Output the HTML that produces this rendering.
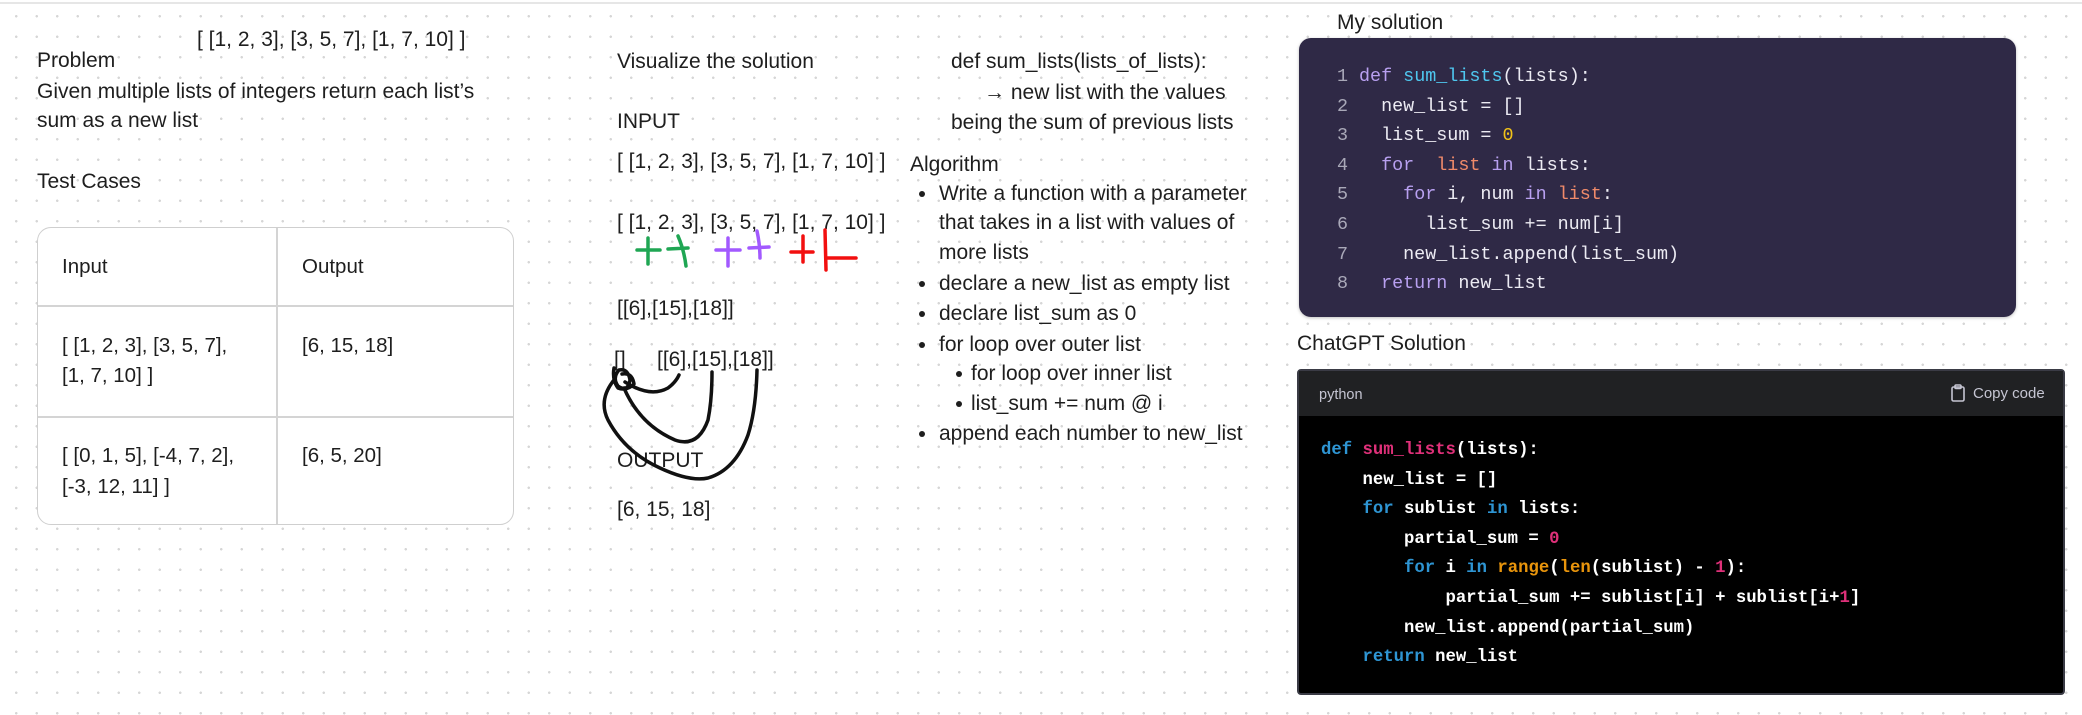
<!DOCTYPE html>
<html><head><meta charset="utf-8"><style>
html,body{margin:0;padding:0}
body{width:2082px;height:715px;position:relative;overflow:hidden;background:#fff;
background-image:radial-gradient(circle,#d6d6d6 1.1px,transparent 1.4px);background-size:20.5px 20.5px;background-position:6px 6px;
font-family:"Liberation Sans",sans-serif;color:#1e1e1e;font-size:21px}
.t{position:absolute;line-height:24px;white-space:nowrap}
.topline{position:absolute;left:0;top:2px;width:2082px;height:2px;background:#e6e6e6}
.table{position:absolute;left:37px;top:227px;width:477px;height:298px;border:1.5px solid #cfcfcf;border-radius:14px;background:#fff;box-sizing:border-box;font-size:20.5px}
.vl{position:absolute;left:238px;top:0;bottom:0;width:1.5px;background:#d4d4d4}
.hl{position:absolute;left:0;right:0;height:1.5px;background:#d4d4d4}
.dot{position:absolute;width:6px;height:6px;border-radius:50%;background:#1e1e1e}
.mine{position:absolute;left:1299px;top:38px;width:717px;height:279px;background:#2f2946;border-radius:12px;box-shadow:0 1px 3px rgba(0,0,0,.25)}
.code{position:absolute;font-family:"Liberation Mono",monospace;white-space:pre;line-height:29.6px}
.mine .code{font-size:18.4px;color:#ecebf3;left:60px;top:24px}
.mine .ln{color:#a9a8b8;text-align:right;width:16px;left:33px}
.kw{color:#b8a0f0}.fn{color:#4fc7ef}.num{color:#f2c318}.or{color:#f08a6a}
.gpt{position:absolute;left:1297px;top:369px;width:768px;height:326px;background:#000;border:2px solid #3a3b45;box-sizing:border-box;border-radius:4px}
.gh{position:absolute;left:0;top:0;right:0;height:45px;background:#202123}
.gpt .code{font-size:17.3px;font-weight:bold;color:#fff;left:22px;top:65px;line-height:29.6px}
.b{color:#2e95d3}.r{color:#df3079}.o{color:#e9950c}
</style></head><body>
<div class="topline"></div>

<div class="t" style="left:197px;top:28px">[ [1, 2, 3], [3, 5, 7], [1, 7, 10] ]</div>
<div class="t" style="left:37px;top:49px">Problem</div>
<div class="t" style="left:37px;top:80px">Given multiple lists of integers return each list’s</div>
<div class="t" style="left:37px;top:109px">sum as a new list</div>
<div class="t" style="left:37px;top:170px">Test Cases</div>

<div class="table">
  <div class="vl"></div>
  <div class="hl" style="top:77px"></div>
  <div class="hl" style="top:188px"></div>
  <div class="t" style="left:24px;top:27px">Input</div>
  <div class="t" style="left:264px;top:27px">Output</div>
  <div class="t" style="left:24px;top:106px">[ [1, 2, 3], [3, 5, 7],</div>
  <div class="t" style="left:24px;top:136px">[1, 7, 10] ]</div>
  <div class="t" style="left:264px;top:106px">[6, 15, 18]</div>
  <div class="t" style="left:24px;top:216px">[ [0, 1, 5], [-4, 7, 2],</div>
  <div class="t" style="left:24px;top:247px">[-3, 12, 11] ]</div>
  <div class="t" style="left:264px;top:216px">[6, 5, 20]</div>
</div>

<div class="t" style="left:617px;top:50px">Visualize the solution</div>
<div class="t" style="left:617px;top:110px">INPUT</div>
<div class="t" style="left:617px;top:150px">[ [1, 2, 3], [3, 5, 7], [1, 7, 10] ]</div>
<div class="t" style="left:617px;top:211px">[ [1, 2, 3], [3, 5, 7], [1, 7, 10] ]</div>
<div class="t" style="left:617px;top:297px">[[6],[15],[18]]</div>
<div class="t" style="left:614px;top:348px">[]</div>
<div class="t" style="left:657px;top:348px">[[6],[15],[18]]</div>
<div class="t" style="left:617px;top:449px">OUTPUT</div>
<div class="t" style="left:617px;top:498px">[6, 15, 18]</div>

<svg style="position:absolute;left:0;top:0" width="2082" height="715" fill="none" stroke-linecap="round" stroke-linejoin="round">
 <g stroke="#1fa653" stroke-width="3.5">
  <path d="M637 250 L660 250 M648 238 L648 264"/>
  <path d="M668 249 L688 248 M678 236 Q684 250 686 266"/>
 </g>
 <g stroke="#a259ff" stroke-width="3.5">
  <path d="M716 250 L740 250 M728 238 L728 266"/>
  <path d="M749 248 L769 247 M757 231 Q760 245 760 258"/>
 </g>
 <g stroke="#f20f0f" stroke-width="3.5">
  <path d="M791 252 L813 252 M803 236 L803 262"/>
  <path d="M825 230 L826 270 M826 258 L856 258"/>
 </g>
 <g stroke="#111" stroke-width="3.5">
  <path d="M614 368 Q612 380 618 388 Q628 392 630 380 Q628 368 619 370 Q612 378 618 386 Q626 392 634 384 Q632 372 622 374"/>
  <path d="M625 382 Q650 398 668 388 Q676 382 679 375"/>
  <path d="M624 388 Q640 425 675 440 Q698 448 708 420 Q712 400 712 372"/>
  <path d="M614 380 Q598 400 608 420 Q625 452 660 468 Q690 482 708 478 Q735 470 748 435 Q756 410 757 370"/>
 </g>
</svg>

<div class="t" style="left:951px;top:50px">def sum_lists(lists_of_lists):</div>
<div class="t" style="left:984px;top:81px">→ new list with the values</div>
<div class="t" style="left:951px;top:111px">being the sum of previous lists</div>
<div class="t" style="left:910px;top:153px">Algorithm</div>
<div class="dot" style="left:919px;top:191px"></div><div class="t" style="left:939px;top:182px">Write a function with a parameter</div>
<div class="t" style="left:939px;top:211px">that takes in a list with values of</div>
<div class="t" style="left:939px;top:241px">more lists</div>
<div class="dot" style="left:919px;top:281px"></div><div class="t" style="left:939px;top:272px">declare a new_list as empty list</div>
<div class="dot" style="left:919px;top:311px"></div><div class="t" style="left:939px;top:302px">declare list_sum as 0</div>
<div class="dot" style="left:919px;top:342px"></div><div class="t" style="left:939px;top:333px">for loop over outer list</div>
<div class="dot" style="left:956px;top:371px"></div><div class="t" style="left:971px;top:362px">for loop over inner list</div>
<div class="dot" style="left:956px;top:401px"></div><div class="t" style="left:971px;top:392px">list_sum += num @ i</div>
<div class="dot" style="left:919px;top:431px"></div><div class="t" style="left:939px;top:422px">append each number to new_list</div>

<div class="t" style="left:1337px;top:11px">My solution</div>
<div class="mine">
<div class="code ln">1
2
3
4
5
6
7
8</div>
<div class="code"><span class="kw">def</span> <span class="fn">sum_lists</span>(lists):
  new_list = []
  list_sum = <span class="num">0</span>
  <span class="kw">for</span>  <span class="or">list</span> <span class="kw">in</span> lists:
    <span class="kw">for</span> i, num <span class="kw">in</span> <span class="or">list</span>:
      list_sum += num[i]
    new_list.append(list_sum)
  <span class="kw">return</span> new_list</div>
</div>

<div class="t" style="left:1297px;top:332px">ChatGPT Solution</div>
<div class="gpt">
 <div class="gh">
  <div class="t" style="left:20px;top:12px;font-size:14.5px;color:#c5c5d2">python</div>
  <svg style="position:absolute;left:652px;top:13px" width="14" height="18" fill="none" stroke="#c5c5d2" stroke-width="1.6"><rect x="1" y="3" width="12" height="14" rx="1.5"/><rect x="4" y="1" width="6" height="3.5" rx="1"/></svg>
  <div class="t" style="left:674px;top:11px;font-size:15px;color:#c5c5d2">Copy code</div>
 </div>
 <div class="code"><span class="b">def</span> <span class="r">sum_lists</span>(lists):
    new_list = []
    <span class="b">for</span> sublist <span class="b">in</span> lists:
        partial_sum = <span class="r">0</span>
        <span class="b">for</span> i <span class="b">in</span> <span class="o">range</span>(<span class="o">len</span>(sublist) - <span class="r">1</span>):
            partial_sum += sublist[i] + sublist[i+<span class="r">1</span>]
        new_list.append(partial_sum)
    <span class="b">return</span> new_list</div>
</div>
</body></html>
